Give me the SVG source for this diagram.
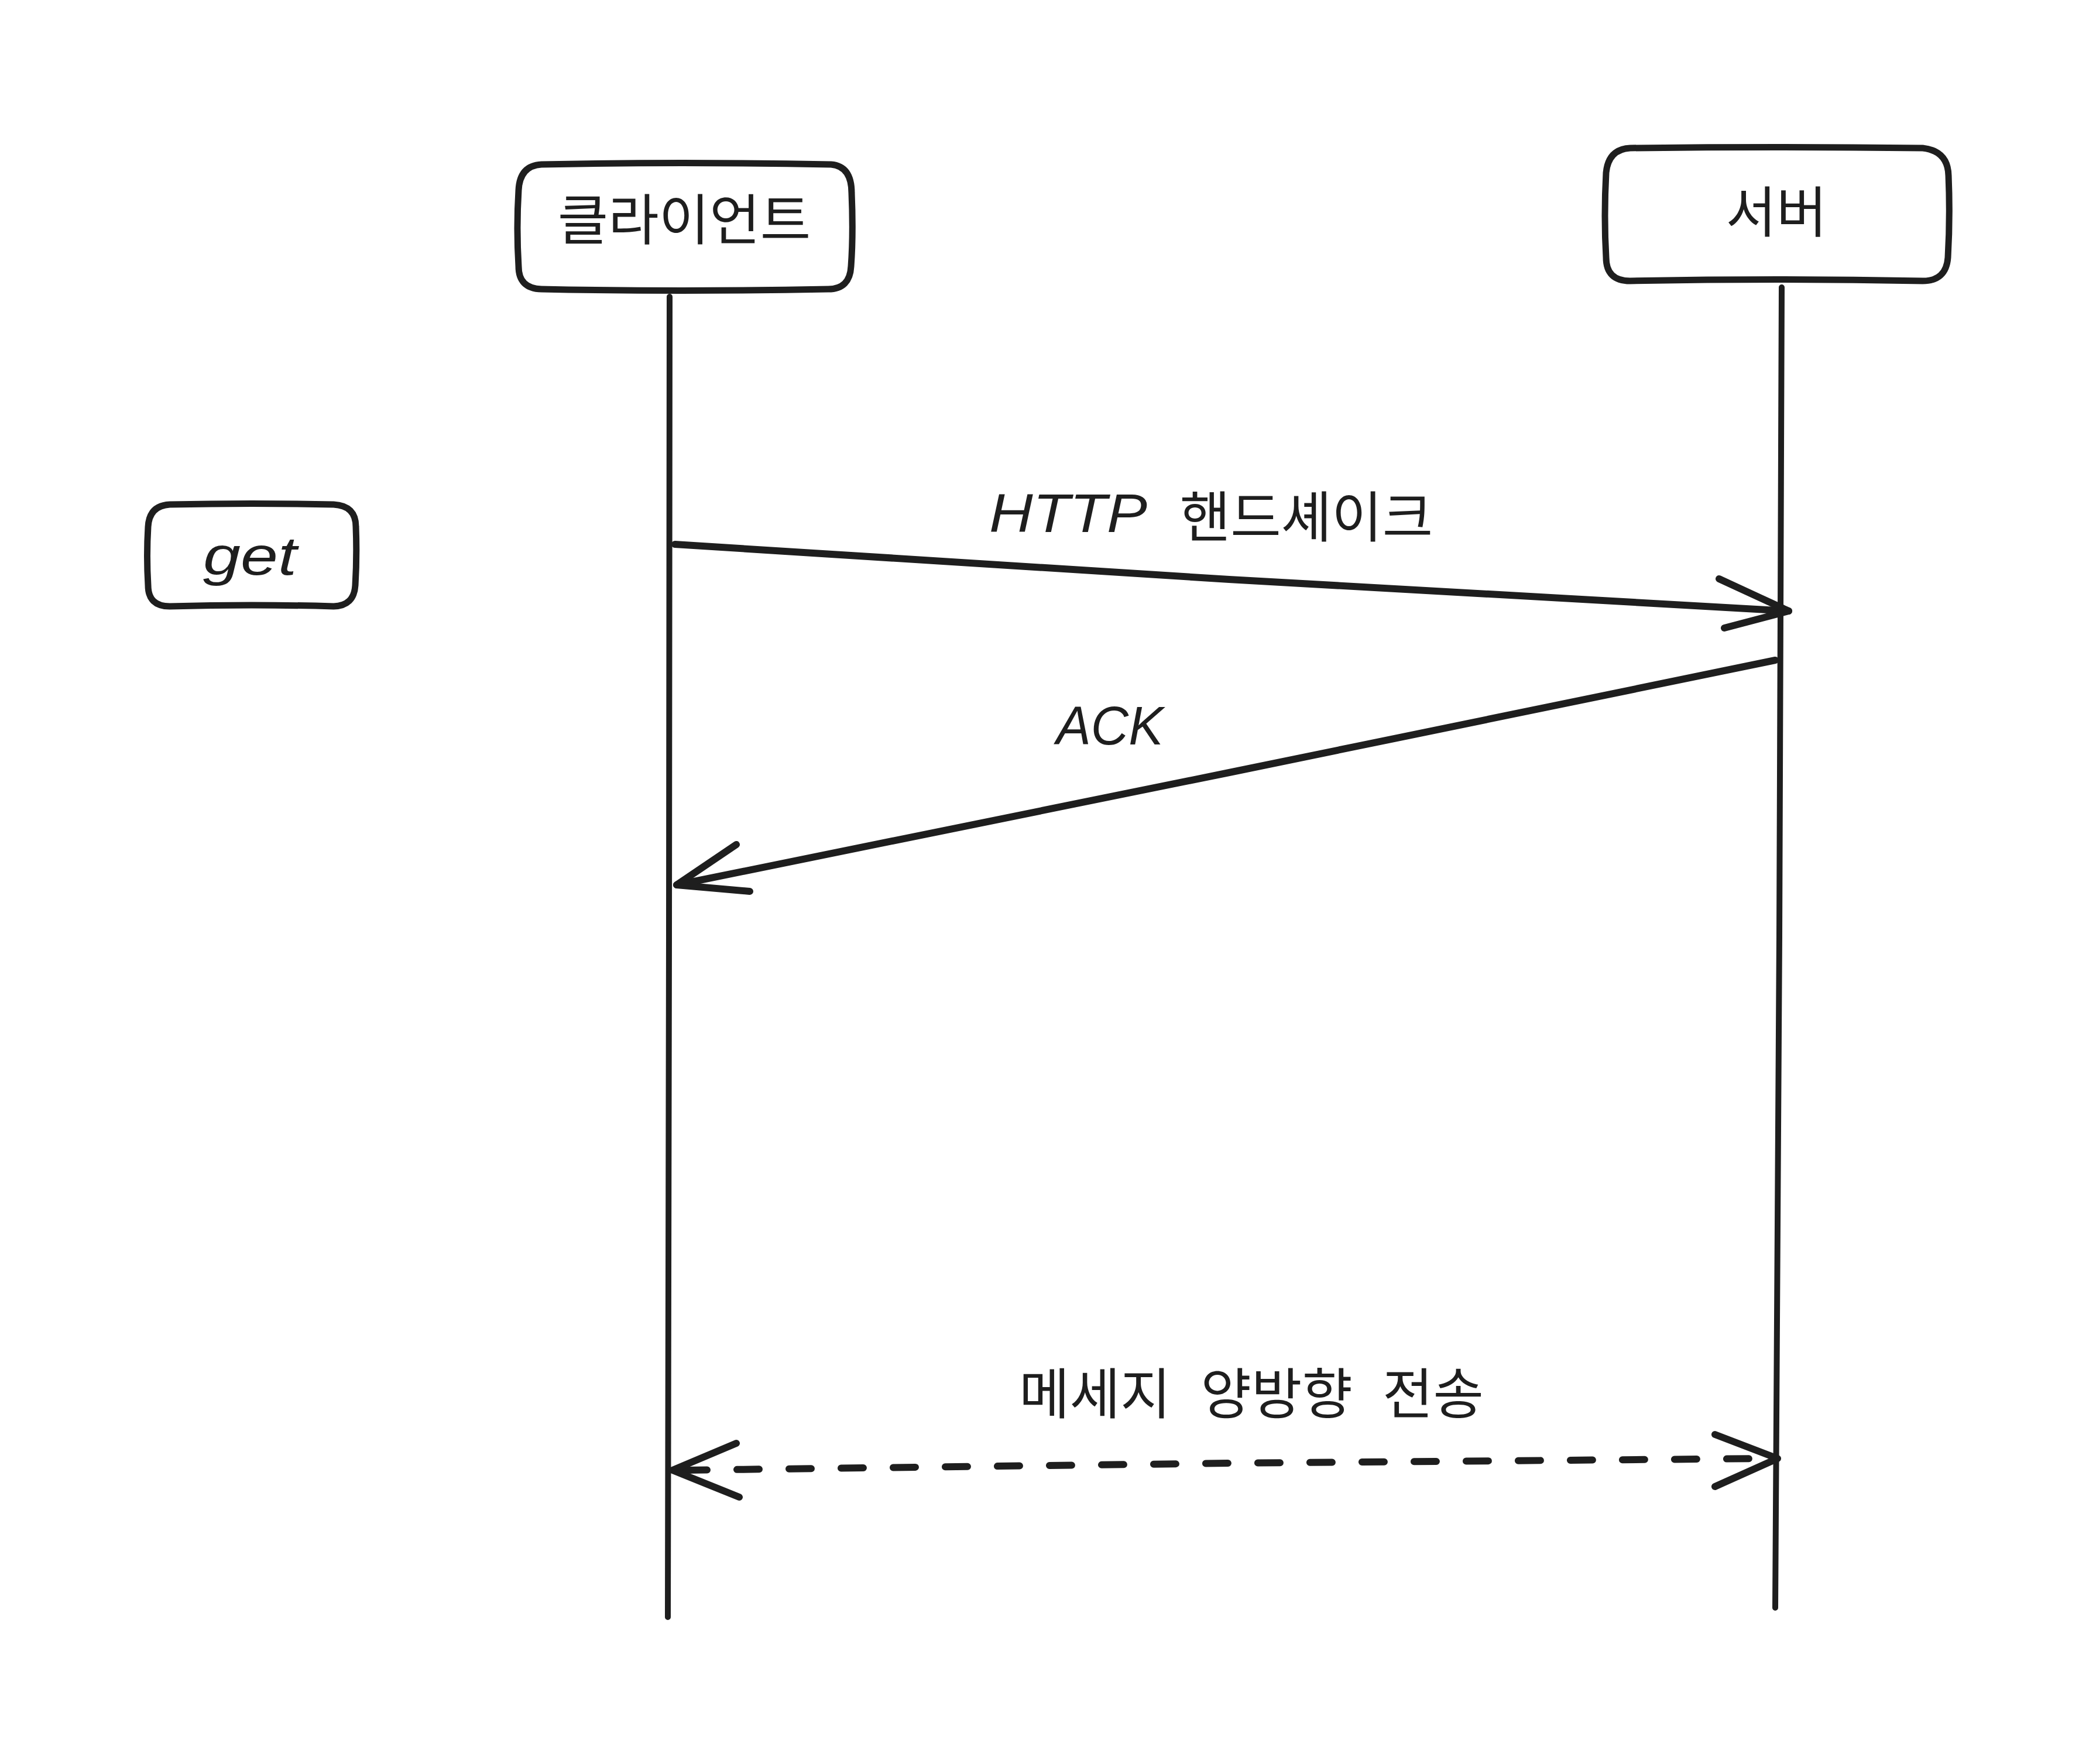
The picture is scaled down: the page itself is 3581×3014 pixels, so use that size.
<svg xmlns="http://www.w3.org/2000/svg" width="3581" height="3014" viewBox="0 0 3581 3014">
<style>
.box{fill:#fff;stroke:#1e1e1e;stroke-width:11;stroke-linejoin:round;stroke-linecap:round}
.line{fill:none;stroke:#1e1e1e;stroke-width:10;stroke-linecap:round;stroke-linejoin:round}
.arrow{fill:none;stroke:#1e1e1e;stroke-width:12;stroke-linecap:round;stroke-linejoin:round}
.dash{stroke-dasharray:38 51}
.t{font-family:"Noto Sans CJK KR","Noto Sans",sans-serif;font-size:94px;fill:#1e1e1e;text-anchor:middle;dominant-baseline:central}
.h{font-family:"Liberation Sans","Noto Sans CJK KR",sans-serif;font-style:italic;font-size:92px;fill:#1e1e1e;text-anchor:middle;dominant-baseline:central}
</style>
<rect width="3581" height="3014" fill="#fff"/>
<g id="connectors">
<path id="lifeline-client" class="line" d="M1144 507 L1143 1600 L1141 2763"/>
<path id="lifeline-server" class="line" d="M3044 491 L3040 1600 L3033 2747"/>
<g id="msg-http">
<path class="arrow" d="M1153 930 L2100 990 L3056 1044"/>
<path class="arrow" d="M2937 989 L3056 1044 L2946 1073"/>
</g>
<g id="msg-ack">
<path class="arrow" d="M3033 1128 L2100 1320 L1156 1512"/>
<path class="arrow" d="M1258 1443 L1156 1512 L1281 1523"/>
</g>
<g id="msg-bidir">
<path class="arrow dash" d="M1170 2512 L2100 2500 L3020 2492"/>
<path class="arrow" d="M1258 2466 L1149 2512 L1263 2558"/>
<path class="arrow" d="M2930 2451 L3037 2492 L2930 2540"/>
</g>
</g>
<g id="node-client">
<path class="box" d="M925 281 Q1160 276 1420 281 Q1455 284 1455 330 Q1458 400 1454 455 Q1452 494 1415 494 Q1160 499 925 494 Q886 493 886 455 Q882 390 886 325 Q888 283 925 281 Z"/>
<text class="t" x="1169" y="369">클라이언트</text>
</g>
<g id="node-server">
<path class="box" d="M2785 253 Q3040 250 3285 253 Q3328 258 3329 300 Q3332 370 3328 440 Q3325 480 3285 480 Q3040 475 2785 480 Q2744 480 2744 440 Q2740 370 2744 295 Q2748 255 2785 253 Z"/>
<text class="t" x="3035" y="356">서버</text>
</g>
<g id="node-get">
<path class="box" d="M290 862 Q430 859 570 862 Q608 864 608 900 Q610 950 607 1000 Q605 1035 570 1036 Q430 1032 290 1036 Q253 1036 253 1000 Q250 950 253 900 Q255 864 290 862 Z"/>
<text class="h" x="427" y="950" textLength="160" lengthAdjust="spacingAndGlyphs">get</text>
</g>
<g id="labels">
<text class="h" x="1825" y="877" textLength="270" lengthAdjust="spacingAndGlyphs">HTTP</text>
<text class="t" x="2232" y="877">핸드셰이크</text>
<text class="h" x="1896" y="1240" textLength="183" lengthAdjust="spacingAndGlyphs">ACK</text>
<text class="t" x="2138" y="2375" word-spacing="30">메세지 양방향 전송</text>
</g>
</svg>
